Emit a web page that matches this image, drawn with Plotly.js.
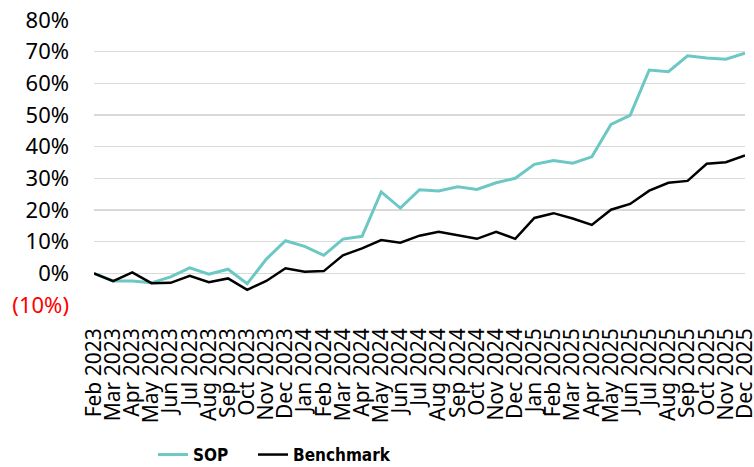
<!DOCTYPE html>
<html>
<head>
<meta charset="utf-8">
<script src="https://cdn.plot.ly/plotly-3.0.1.min.js"></script>
<style>html,body{margin:0;padding:0;background:#fff;}#chart{width:754px;height:467px;}</style>
</head>
<body>
<div id="chart"></div>
<script>
const months = ["Feb 2023","Mar 2023","Apr 2023","May 2023","Jun 2023","Jul 2023","Aug 2023","Sep 2023","Oct 2023","Nov 2023","Dec 2023",
  "Jan 2024","Feb 2024","Mar 2024","Apr 2024","May 2024","Jun 2024","Jul 2024","Aug 2024","Sep 2024","Oct 2024","Nov 2024","Dec 2024",
  "Jan 2025","Feb 2025","Mar 2025","Apr 2025","May 2025","Jun 2025","Jul 2025","Aug 2025","Sep 2025","Oct 2025","Nov 2025","Dec 2025"];
const sop = [0,-2.4,-2.4,-3.0,-1.1,1.7,-0.3,1.3,-3.3,4.5,10.3,
  8.5,5.7,10.8,11.7,25.7,20.6,26.4,26.0,27.3,26.5,28.6,30.0,
  34.4,35.6,34.8,36.8,47.0,49.9,64.2,63.7,68.7,68.0,67.6,69.5];
const benchmark = [0,-2.5,0.3,-3.1,-3.0,-0.8,-2.8,-1.6,-5.2,-2.4,1.6,
  0.5,0.7,5.7,7.9,10.5,9.7,11.9,13.1,12.1,10.9,13.1,10.9,
  17.5,19.0,17.3,15.3,20.1,21.9,26.1,28.6,29.2,34.6,35.1,37.2];
const yTickVals = [-10,0,10,20,30,40,50,60,70,80];
const yTickText = ['<span style="color:#ff0000">(10%)</span>','0%','10%','20%','30%','40%','50%','60%','70%','80%'];

const traces = [
  {x: months, y: sop, name: 'SOP', type: 'scatter', mode: 'lines', legend: 'legend',
   line: {color: '#6cc8c4', width: 3}},
  {x: months, y: benchmark, name: 'Benchmark', type: 'scatter', mode: 'lines', legend: 'legend2',
   line: {color: '#000000', width: 2.5}}
];

const legendFont = {family: 'Liberation Sans Narrow, DejaVu Sans Condensed, sans-serif', size: 17, weight: 'bold', color: '#000'};

const layout = {
  width: 754, height: 467,
  margin: {l: 94, r: 9, t: 20, b: 162},
  paper_bgcolor: '#ffffff', plot_bgcolor: '#ffffff',
  font: {family: 'Noto Sans, sans-serif', color: '#000'},
  showlegend: true,
  legend: {orientation: 'h', xref: 'container', yref: 'container',
    x: 153/754, xanchor: 'left', y: 1 - 455/467, yanchor: 'middle',
    font: legendFont, itemwidth: 30},
  legend2: {orientation: 'h', xref: 'container', yref: 'container',
    x: 253/754, xanchor: 'left', y: 1 - 455/467, yanchor: 'middle',
    font: legendFont, itemwidth: 30},
  xaxis: {type: 'category', range: [0, 34], showgrid: false, zeroline: false, showline: false,
    automargin: false, tickmode: 'array', tickvals: months, ticktext: months,
    ticks: '', tickangle: -90, ticklabelstandoff: 18,
    tickfont: {family: 'Noto Sans, sans-serif', size: 21, color: '#000'}},
  xaxis2: {overlaying: 'x', anchor: 'free', position: 10/90, type: 'linear', range: [0, 34],
    automargin: false,
    tickmode: 'linear', tick0: 0, dtick: 1, ticks: 'outside', ticklen: 8, tickwidth: 1.5,
    tickcolor: '#d9d9d9', showticklabels: false, showgrid: false, zeroline: false,
    showline: true, linecolor: '#d9d9d9', linewidth: 1.5},
  yaxis: {range: [-10, 80], tickvals: yTickVals, ticktext: yTickText, automargin: false,
    showgrid: true, gridcolor: '#d9d9d9', gridwidth: 1.5, zeroline: false, showline: false,
    ticks: '', ticklabelstandoff: 24,
    tickfont: {family: 'Noto Sans, sans-serif', size: 22, color: '#000'}}
};

Plotly.newPlot('chart', traces, layout, {displayModeBar: false, staticPlot: true});
</script>
</body>
</html>
